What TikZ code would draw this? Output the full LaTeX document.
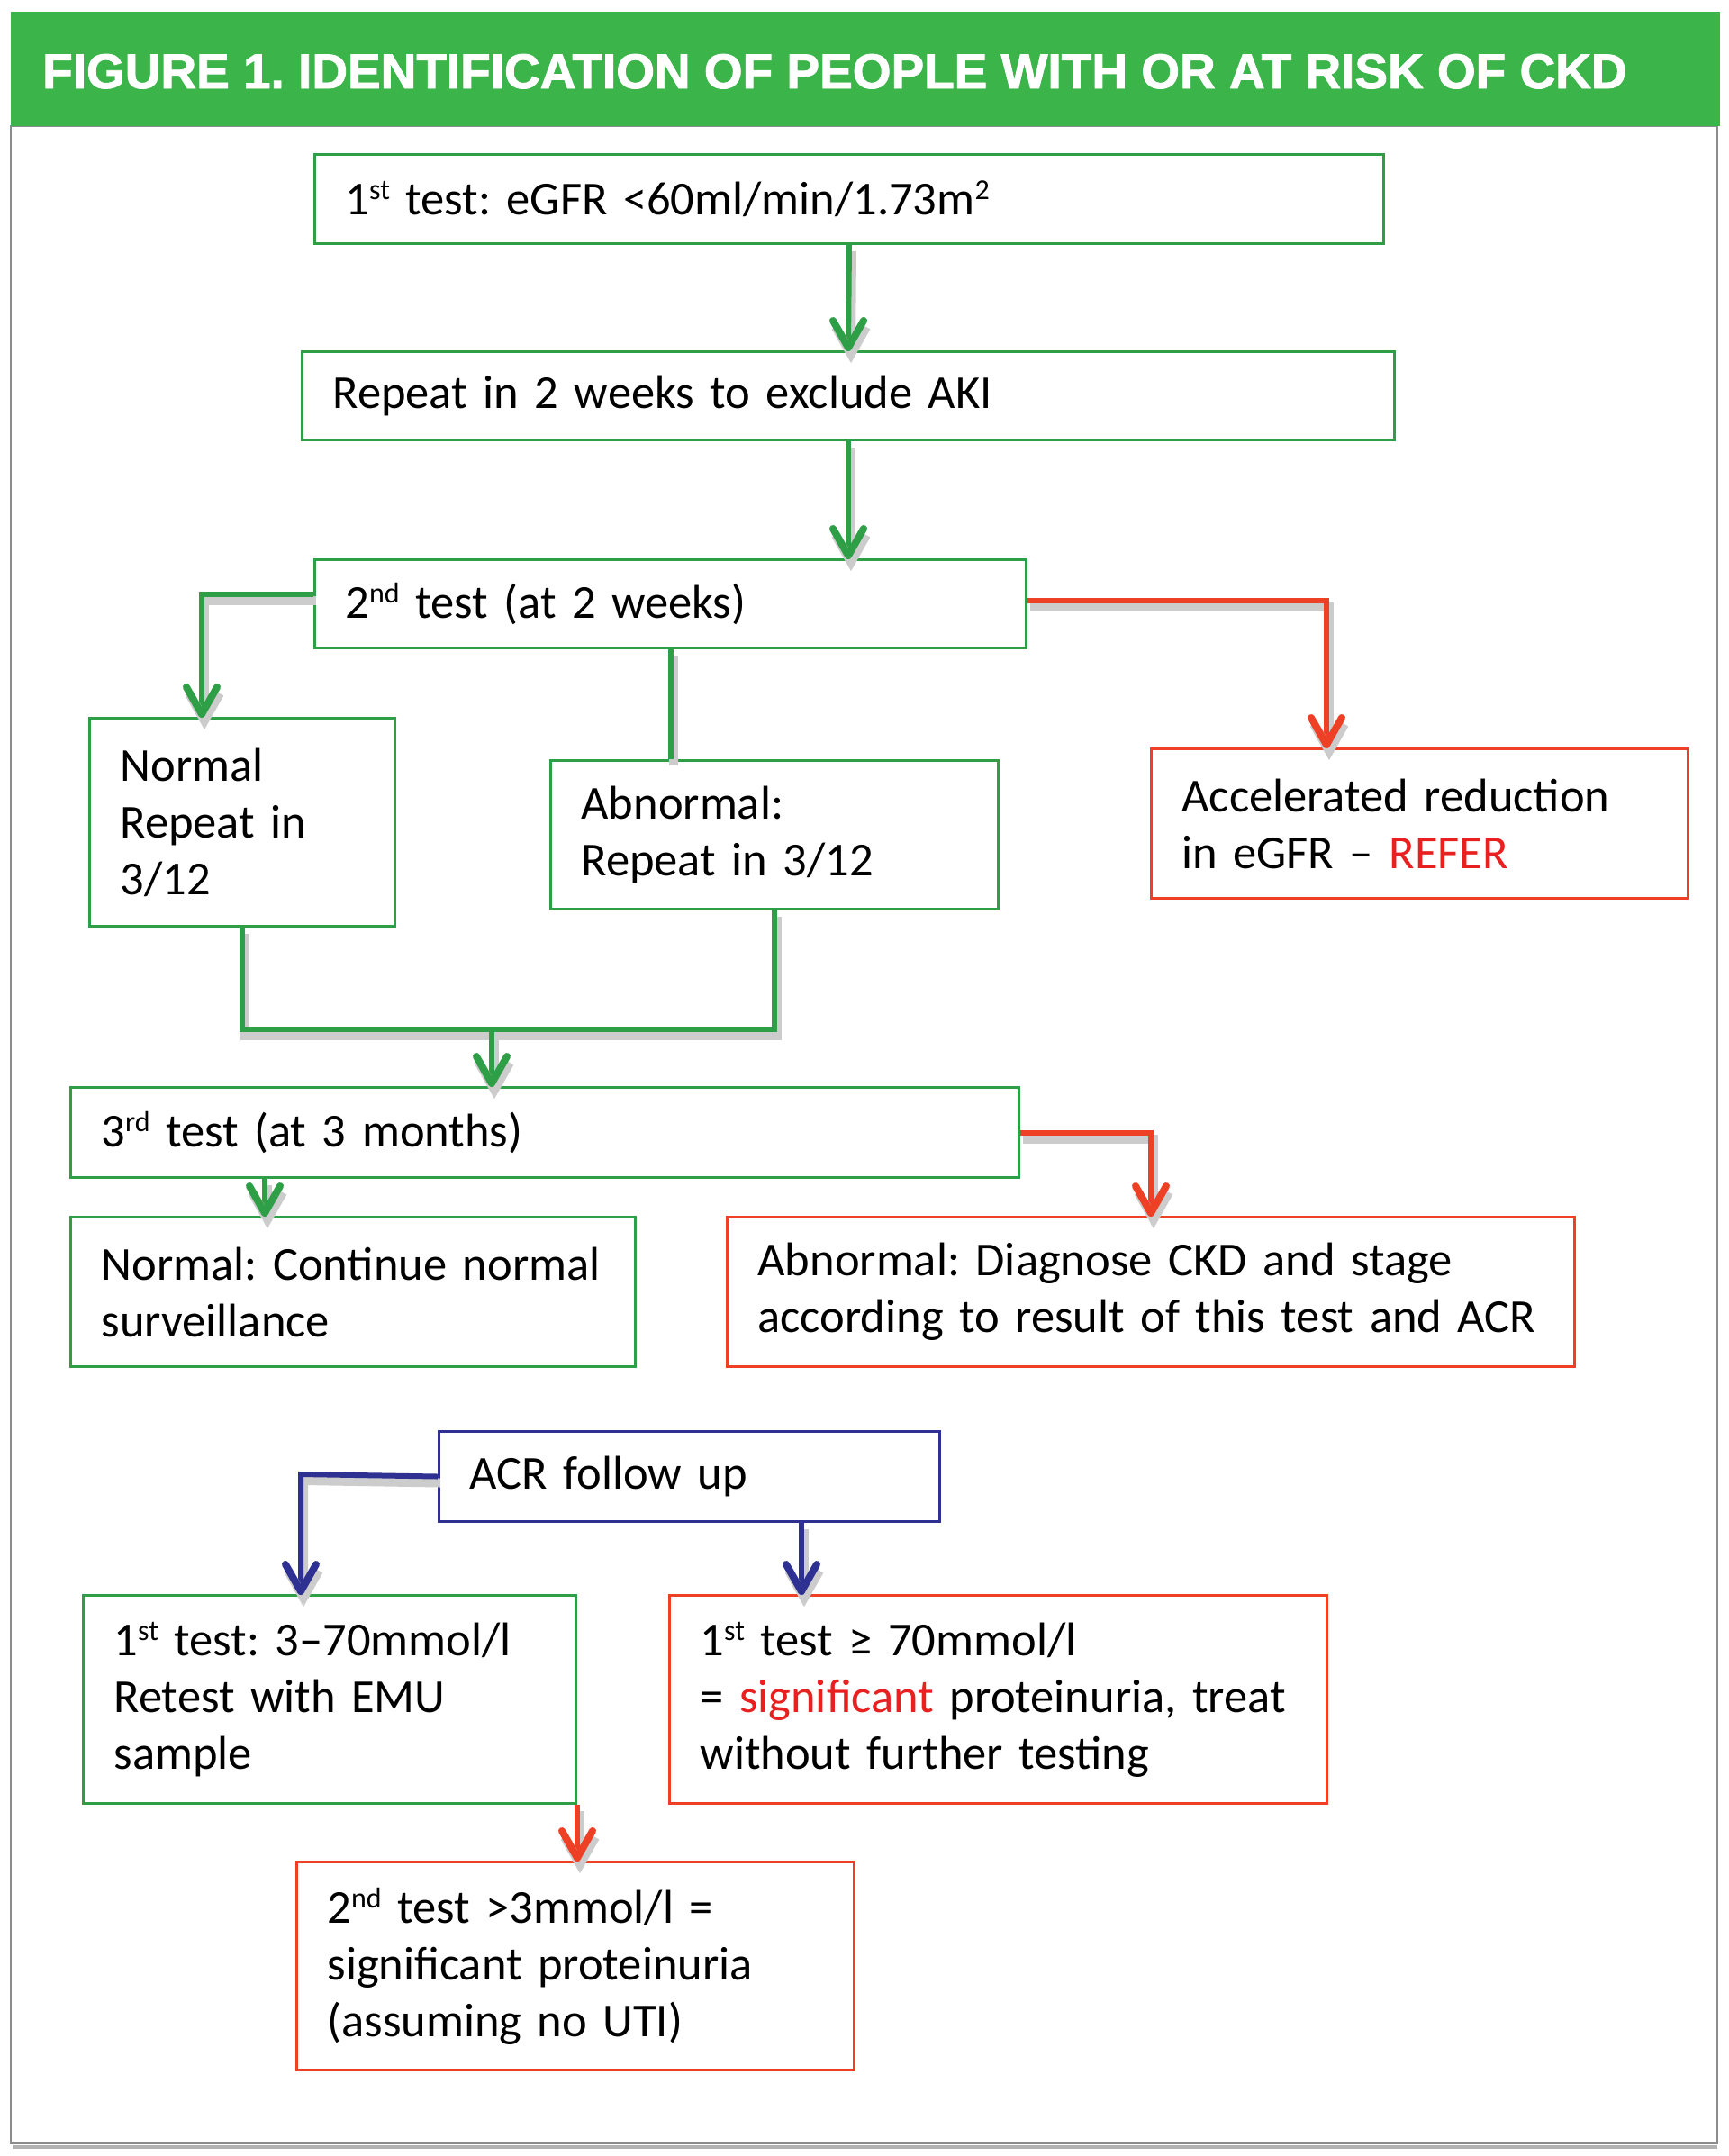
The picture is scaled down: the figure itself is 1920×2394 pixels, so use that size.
\documentclass[tikz,border=0pt]{standalone}
\usepackage{fontspec}
\setmainfont{Carlito}
\newfontfamily\titlefont[BoldFeatures={FakeBold=1.6}]{Liberation Sans}
\definecolor{hdrgreen}{HTML}{3BB44A}
\definecolor{bgreen}{HTML}{2E9F46}
\definecolor{bred}{HTML}{EE4024}
\definecolor{tred}{HTML}{E8201F}
\definecolor{bblue}{HTML}{2E3192}
\newcommand\sups[1]{\raisebox{17pt}{\fontsize{32}{32}\selectfont #1}}
\newcommand\tiphead[2]{\draw[#1conn, line width=8pt, line cap=round, line join=round]
  ([yshift=3pt]#2) ++(-17,-30) -- ([yshift=3pt]#2) -- ++(17,-30);}
\frenchspacing
\begin{document}
\begin{tikzpicture}[x=1pt,y=-1pt,
  box/.style={draw, line width=3pt, rectangle, inner xsep=34pt, inner ysep=0pt,
    align=left, anchor=north west, font=\fontsize{52.5}{63}\selectfont\frenchspacing},
  gbox/.style={box, draw=bgreen},
  rbox/.style={box, draw=bred},
  blbox/.style={box, draw=bblue},
  conn/.style={line width=6pt, line join=miter,
    preaction={draw=black!20, line width=10pt, transform canvas={shift={(3pt,-7pt)}}}},
  gconn/.style={conn, draw=bgreen},
  rconn/.style={conn, draw=bred},
  bconn/.style={conn, draw=bblue}]
\useasboundingbox (0,0) rectangle (1920,2394);
\fill[white] (0,0) rectangle (1920,2394);
% frame and header
\draw[black!45, line width=2pt] (12,140) rectangle (1907,2380);
\draw[black!30, line width=4pt] (14,2384) -- (1907,2384);
\fill[hdrgreen] (12,13) rectangle (1910,140);
\node[anchor=base west, inner sep=0pt, text=white] (title) at (47,98)
  {\resizebox{1759pt}{38pt}{\titlefont\bfseries FIGURE 1. IDENTIFICATION OF PEOPLE WITH OR AT RISK OF CKD}};

% boxes
\node[gbox, minimum width=1187pt, minimum height=99pt, text width=1119pt] (b1) at (348,170)
  {\mbox{1\sups{st} test: eGFR <60ml/min/1.73m\sups{2}}};
\node[gbox, minimum width=1213pt, minimum height=98pt, text width=1145pt] (b2) at (334,389)
  {\mbox{Repeat in 2 weeks to exclude AKI}};
\node[gbox, minimum width=790pt, minimum height=98pt, text width=722pt] (b3) at (348,620)
  {\mbox{2\sups{nd} test (at 2 weeks)}};
\node[gbox, minimum width=339pt, minimum height=231pt, text width=271pt] (norm) at (98,796)
  {\mbox{Normal}\\\mbox{Repeat in}\\\mbox{3/12}};
\node[gbox, minimum width=497pt, minimum height=165pt, text width=429pt] (abn) at (610,843)
  {\mbox{Abnormal:}\\\mbox{Repeat in 3/12}};
\node[rbox, minimum width=596pt, minimum height=166pt, text width=528pt] (acc) at (1277,830)
  {\mbox{Accelerated reduction}\\\mbox{in eGFR – \textcolor{tred}{REFER}}};
\node[gbox, minimum width=1053pt, minimum height=100pt, text width=985pt] (t3) at (77,1206)
  {\mbox{3\sups{rd} test (at 3 months)}};
\node[gbox, minimum width=627pt, minimum height=166pt, text width=559pt] (nc) at (77,1350)
  {\mbox{Normal: Continue normal}\\\mbox{surveillance}};
\node[rbox, minimum width=941pt, minimum height=166pt, text width=873pt] (ad) at (806,1350)
  {\mbox{Abnormal: Diagnose CKD and stage}\\\mbox{according to result of this test and ACR}};
\node[blbox, minimum width=556pt, minimum height=100pt, text width=488pt] (acr) at (486,1588)
  {\mbox{ACR follow up}};
\node[gbox, minimum width=547pt, minimum height=231pt, text width=479pt] (emu) at (91,1770)
  {\mbox{1\sups{st} test: 3–70mmol/l}\\\mbox{Retest with EMU}\\\mbox{sample}};
\node[rbox, minimum width=730pt, minimum height=231pt, text width=662pt] (sig) at (742,1770)
  {\mbox{1\sups{st} test ≥ 70mmol/l}\\\mbox{= \textcolor{tred}{significant} proteinuria, treat}\\\mbox{without further testing}};
\node[rbox, minimum width=619pt, minimum height=231pt, text width=551pt] (t2) at (328,2066)
  {\mbox{2\sups{nd} test >3mmol/l =}\\\mbox{significant proteinuria}\\\mbox{(assuming no UTI)}};

% bend coordinates
\coordinate (l1) at (224,660);
\coordinate (r1) at (1473,667);
\coordinate (mg) at (546,1143);
\coordinate (d1) at (294,1306);
\coordinate (a1) at (334,1637);
\coordinate (a2) at (890,1688);
% arrow end points
\coordinate (e1) at (b2.north);
\coordinate (e2) at (b2.south |- b3.north);
\coordinate (e3) at (l1 |- norm.north);
\coordinate (e4) at (r1 |- acc.north);
\coordinate (e5) at (mg |- t3.north);
\coordinate (e6) at (d1 |- nc.north);
\coordinate (e7) at (ad.north);
\coordinate (e8) at (a1 |- emu.north);
\coordinate (e9) at (a2 |- sig.north);
\coordinate (e10) at (emu.south east |- t2.north);

% connectors
\draw[gconn] (b1.south) -- ([yshift=4pt]e1);
\draw[gconn] (b2.south) -- ([yshift=4pt]e2);
\draw[gconn] (b3.west |- l1) -- (l1) -- ([yshift=4pt]e3);
\draw[gconn] (b3.south) -- (b3.south |- abn.north);
\draw[rconn] (b3.east |- r1) -- (r1) -- ([yshift=4pt]e4);
\draw[gconn] (norm.south) -- (norm.south |- mg) -- (abn.south |- mg) -- (abn.south);
\draw[gconn] (mg) -- ([yshift=4pt]e5);
\draw[gconn] (d1 |- t3.south) -- ([yshift=4pt]e6);
\draw[rconn] (t3.east) -- (ad.north |- t3.east) -- ([yshift=4pt]e7);
\draw[bconn] (acr.west) -- (a1) -- ([yshift=4pt]e8);
\draw[bconn] (a2 |- acr.south) -- ([yshift=4pt]e9);
\draw[rconn] (emu.south east) -- ([yshift=4pt]e10);
% arrow heads
\tiphead{g}{e1}
\tiphead{g}{e2}
\tiphead{g}{e3}
\tiphead{r}{e4}
\tiphead{g}{e5}
\tiphead{g}{e6}
\tiphead{r}{e7}
\tiphead{b}{e8}
\tiphead{b}{e9}
\tiphead{r}{e10}
\end{tikzpicture}
\end{document}
